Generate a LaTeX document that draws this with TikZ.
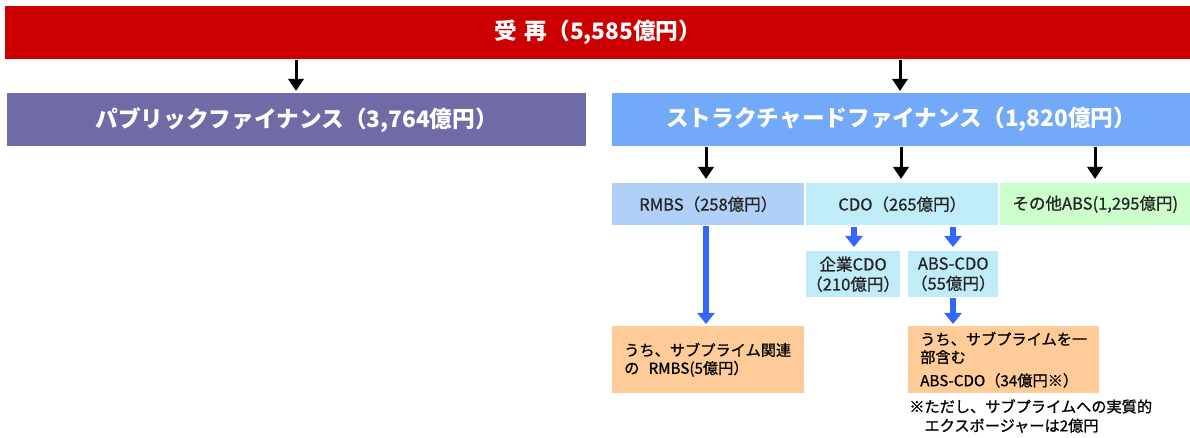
\documentclass[tikz,border=0pt]{standalone}
\usepackage{fontspec}
\setmainfont{Noto Sans CJK JP}
\newfontfamily\jpm[FakeBold=0.9]{Noto Sans CJK JP}
\usetikzlibrary{arrows.meta}
\def\PX{0.75pt}
\definecolor{cred}{HTML}{CC0000}
\definecolor{cpub}{HTML}{6F6BA7}
\definecolor{csf}{HTML}{72A9F8}
\definecolor{crmbs}{HTML}{B0D0F8}
\definecolor{ccdo}{HTML}{C0ECFA}
\definecolor{cabs}{HTML}{CCFFCC}
\definecolor{corg}{HTML}{FFCC99}
\definecolor{carr}{HTML}{3366FF}
\tikzset{
  box/.style={anchor=north west, inner sep=0pt, align=center},
  bar/.style={box, text=white, font=\fontsize{17pt}{20pt}\selectfont\bfseries},
  sub/.style={box, text=black!85, font=\jpm\fontsize{12.4pt}{15pt}\selectfont},
  org/.style={box, fill=corg, align=left, inner xsep=12*\PX, text=black,
    font=\jpm\fontsize{11.4pt}{13.5pt}\selectfont},
  blk/.style={draw=black, line width=3*\PX, -{Triangle[width=15*\PX,length=12*\PX]}},
  blu/.style={draw=carr, line width=5.5*\PX, -{Triangle[width=17*\PX,length=11*\PX]}},
}
\begin{document}
\begin{tikzpicture}[x=\PX, y=-\PX]
\useasboundingbox (0,0) rectangle (1190,438);
% bars
\node[bar, fill=cred, minimum width=1185*\PX, minimum height=53*\PX] (top) at (5,6) {受\hspace{0.35em}再（5,585億円）};
\node[bar, fill=cpub, minimum width=579*\PX, minimum height=53*\PX] (pub) at (7,93) {パブリックファイナンス（3,764億円）};
\node[bar, fill=csf, minimum width=578*\PX, minimum height=53*\PX] (sf) at (612,93) {ストラクチャードファイナンス（1,820億円）};
% second level
\node[sub, fill=crmbs, minimum width=192*\PX, minimum height=42*\PX] (rmbs) at (612,183) {RMBS（258億円）};
\node[sub, fill=ccdo, minimum width=192*\PX, minimum height=42*\PX] (cdo) at (806,183) {CDO（265億円）};
\node[sub, fill=cabs, minimum width=190*\PX, minimum height=42*\PX] (oth) at (1000,183) {その他ABS(1,295億円)};
% third level
\node[sub, fill=ccdo, minimum width=92*\PX, minimum height=46*\PX] (kig) at (806,251) {企業CDO\\（210億円）};
\node[sub, fill=ccdo, minimum width=90*\PX, minimum height=46*\PX] (acdo) at (908,251) {ABS-CDO\\（55億円）};
% orange
\node[org, minimum width=192*\PX, minimum height=67*\PX, text width=168*\PX] (orl) at (612,326) {うち、サブプライム関連\\の\hspace{0.6em}RMBS(5億円）};
\node[org, minimum width=191*\PX, minimum height=67*\PX, text width=167*\PX] (orr) at (908,326) {うち、サブプライムを一\\部含む\\[4pt]ABS-CDO（34億円※）};
% footnote
\node[anchor=north west, inner sep=0pt, align=left, font=\jpm\fontsize{11.4pt}{14.3pt}\selectfont] (note) at (909,399) {※ただし、サブプライムへの実質的\\\hspace*{1em}エクスポージャーは2億円};
% arrow columns
\coordinate (c1) at (296,0);
\coordinate (c2) at (900,0);
\coordinate (c3) at (706,0);
\coordinate (c4) at (901,0);
\coordinate (c5) at (1095,0);
\coordinate (c6) at (854,0);
\coordinate (c7) at (953,0);
% black arrows
\draw[blk, shorten >=2*\PX] (top.south -| c1) -- (pub.north -| c1);
\draw[blk, shorten >=2*\PX] (top.south -| c2) -- (sf.north -| c2);
\draw[blk, shorten >=4*\PX] (sf.south -| c3) -- (rmbs.north -| c3);
\draw[blk, shorten >=4*\PX] (sf.south -| c4) -- (cdo.north -| c4);
\draw[blk, shorten >=4*\PX] (sf.south -| c5) -- (oth.north -| c5);
% blue arrows
\draw[blu, shorten <=1*\PX, shorten >=4*\PX] (cdo.south -| c6) -- (kig.north -| c6);
\draw[blu, shorten <=1*\PX, shorten >=4*\PX] (cdo.south -| c7) -- (acdo.north -| c7);
\draw[blu, shorten >=2*\PX] (rmbs.south -| c3) -- (orl.north -| c3);
\draw[blu, shorten >=2*\PX] (acdo.south -| c7) -- (orr.north -| c7);
\end{tikzpicture}
\end{document}
